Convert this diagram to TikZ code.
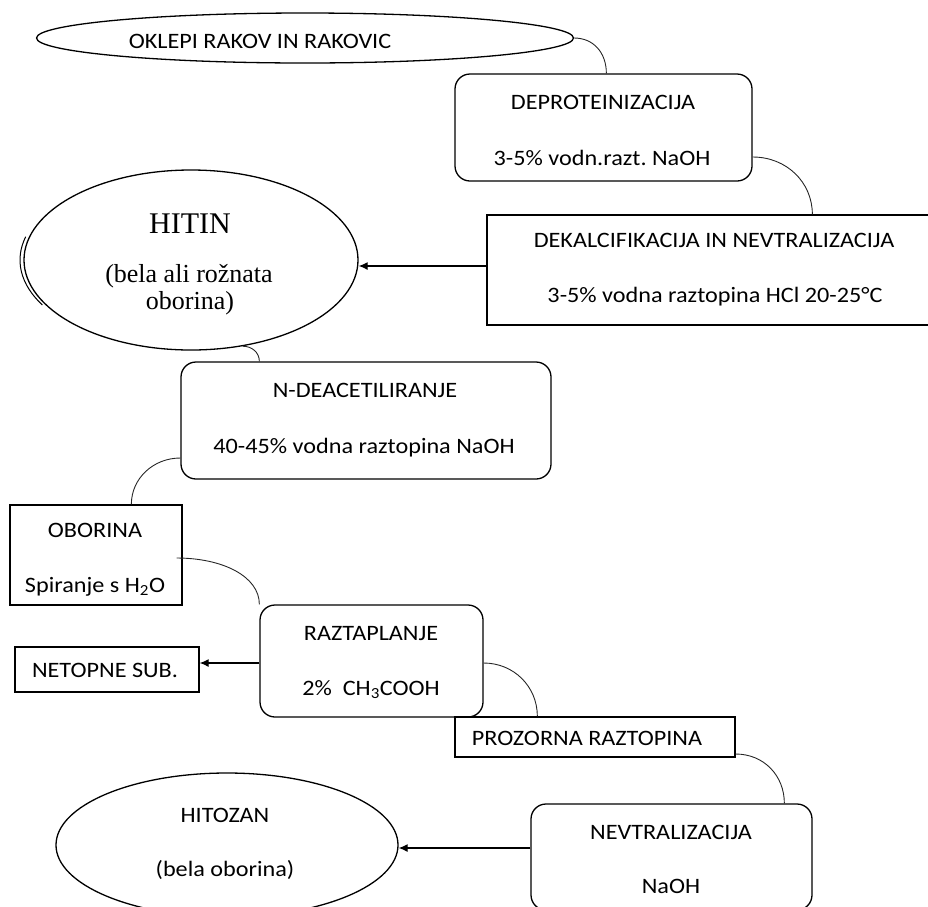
\documentclass[tikz,border=0pt]{standalone}
\usepackage{fontspec}
\setmainfont{Carlito}[FakeStretch=1.1]
\newfontfamily\serifhitin{Liberation Serif}
\usetikzlibrary{arrows.meta,shapes.geometric}

\newcommand\napisfont{\fontsize{22}{26}\selectfont}

\tikzset{
  okvir/.style={draw, line width=1.3pt, inner sep=0pt},
  zaobljen/.style={okvir, rounded corners=15pt},
  elipsa/.style={okvir, ellipse},
  napis/.style={anchor=base, inner sep=0pt, font=\napisfont},
  vez/.style={line width=0.9pt, draw=black!85},
  puscica/.style={line width=1.2pt, -{Latex[length=9pt,width=8pt]}},
}

\begin{document}
\begin{tikzpicture}[x=1pt,y=-1pt]
  \useasboundingbox (0,0) rectangle (928,906);
  \clip (0,0) rectangle (928,906);
  % okvirji in elipse
  \node[elipsa, minimum width=537pt, minimum height=50pt] (oklepi) at (305,38) {};
  \node[zaobljen, minimum width=297pt, minimum height=107pt] (deprot) at (603.5,127.5) {};
  \node[okvir, minimum width=453pt, minimum height=110pt] (dekalc) at (713.5,270) {};
  \node[elipsa, minimum width=334pt, minimum height=180pt] (hitin) at (191,260) {};
  \node[zaobljen, minimum width=370pt, minimum height=117pt] (ndeac) at (366,420.5) {};
  \node[okvir, minimum width=172pt, minimum height=100pt] (oborina) at (96,555) {};
  \node[zaobljen, minimum width=223pt, minimum height=112pt] (raztap) at (371.5,661) {};
  \node[okvir, minimum width=184pt, minimum height=45pt] (netopne) at (107,669.5) {};
  \node[okvir, minimum width=280pt, minimum height=40pt] (prozorna) at (595,737) {};
  \node[zaobljen, minimum width=281pt, minimum height=106pt] (nevtr) at (671.5,857) {};
  \node[elipsa, minimum width=342pt, minimum height=144pt] (hitozan) at (227,845) {};
  % dvojna crta na levi strani elipse HITIN
  \draw[line width=1pt] (hitin.center) ++({-4+167*cos(150)},{90*sin(150)}) arc (150:195:167 and 90);

  % napisi
  \node[napis] (oklepi-t) at (260,48) {OKLEPI RAKOV IN RAKOVIC};
  \node[napis] (deprot-t1) at (603,109) {DEPROTEINIZACIJA};
  \node[napis] (deprot-t2) at (602,165) {3-5\% vodn.razt.\ NaOH};
  \node[napis] (dekalc-t1) at (714,247) {DEKALCIFIKACIJA IN NEVTRALIZACIJA};
  \node[napis] (dekalc-t2) at (715,302) {3-5\% vodna raztopina HCl 20-25°C};
  \node[napis, font=\serifhitin\fontsize{30}{34}\selectfont] (hitin-t1) at (190,233) {HITIN};
  \node[napis, font=\serifhitin\fontsize{26}{30}\selectfont] (hitin-t2) at (189,282) {(bela ali rožnata};
  \node[napis, font=\serifhitin\fontsize{26}{30}\selectfont] (hitin-t3) at (190,309) {oborina)};
  \node[napis] (ndeac-t1) at (365,397) {N-DEACETILIRANJE};
  \node[napis] (ndeac-t2) at (364,453) {40-45\% vodna raztopina NaOH};
  \node[napis] (oborina-t1) at (95,537) {OBORINA};
  \node[napis] (oborina-t2) at (95,592) {Spiranje s H\textsubscript{2}O};
  \node[napis] (raztap-t1) at (371,640) {RAZTAPLANJE};
  \node[napis] (raztap-t2) at (371,695) {2\%\ \ CH\textsubscript{3}COOH};
  \node[napis] (netopne-t) at (105,677) {NETOPNE SUB.};
  \node[napis] (prozorna-t) at (587,745) {PROZORNA RAZTOPINA};
  \node[napis] (nevtr-t1) at (671,839) {NEVTRALIZACIJA};
  \node[napis] (nevtr-t2) at (671,893) {NaOH};
  \node[napis] (hitozan-t1) at (225,822) {HITOZAN};
  \node[napis] (hitozan-t2) at (225,876) {(bela oborina)};

  % tocke za povezave
  \coordinate (dep-vhod) at ([xshift=152pt]deprot.north west);
  \coordinate (dep-izhod) at ([yshift=-29.5pt]deprot.east);
  \coordinate (dek-vhod) at ([xshift=326pt]dekalc.north west);
  \coordinate (dek-izhod) at ([yshift=4pt]dekalc.west);
  \coordinate (nde-vhod) at ([xshift=79pt]ndeac.north west);
  \coordinate (nde-izhod) at ([yshift=-37.5pt]ndeac.west);
  \coordinate (obo-vhod) at ([xshift=122pt]oborina.north west);
  \coordinate (obo-izhod) at ([xshift=-6pt,yshift=-3pt]oborina.east);
  \coordinate (raz-izhod) at ([yshift=-2pt]raztap.east);
  \coordinate (raz-levo) at ([yshift=-2pt]raztap.west);
  \coordinate (pro-vhod) at ([xshift=83pt]prozorna.north west);
  \coordinate (pro-izhod) at ([yshift=-17pt]prozorna.east);
  \coordinate (nev-vhod) at ([xshift=254pt]nevtr.north west);
  \coordinate (nev-izhod) at ([yshift=9pt]nevtr.west);

  % zavite povezave
  \foreach \iz/\vh/\a/\b in {oklepi.east/dep-vhod/19/21, dep-izhod/dek-vhod/34/32,
      hitin.-59/nde-vhod/9/9, nde-izhod/obo-vhod/-27/26, obo-izhod/raztap.north west/46/28,
      raz-izhod/pro-vhod/30/30, pro-izhod/nev-vhod/28/28}
    \draw[vez] (\iz) .. controls +(\a,0) and +(0,-\b) .. (\vh);

  % puscice
  \draw[puscica] (dek-izhod) -- (dek-izhod -| hitin.east);
  \draw[puscica] (raz-levo) -- (raz-levo -| netopne.east);
  \draw[puscica] (nev-izhod) -- (nev-izhod -| hitozan.east);
\end{tikzpicture}
\end{document}
